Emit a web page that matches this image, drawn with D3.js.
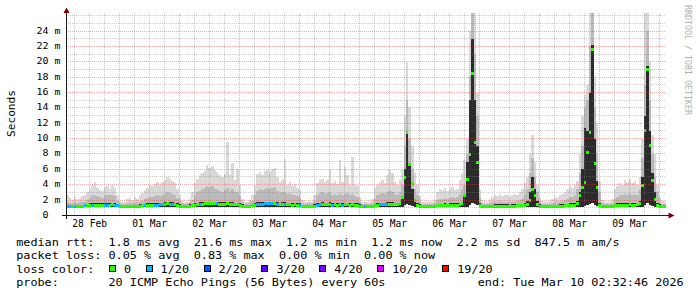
<!DOCTYPE html>
<html><head><meta charset="utf-8">
<script src="https://cdn.jsdelivr.net/npm/d3@7"></script>
<style>
html,body{margin:0;padding:0;background:#fff}
svg{display:block}
text{font-family:"DejaVu Sans Mono",monospace;white-space:pre}
</style>
</head><body>
<svg id="chart" width="697" height="297"></svg>
<script>
// ---------------- data (hourly bins) ----------------
const startTime = Date.UTC(2026, 1, 28, 2, 32, 46);
const endTime   = Date.UTC(2026, 2, 10, 2, 32, 46);
const stepMs = 3600 * 1000;

// median rtt (ms), one row per day (02:32 -> 02:32)
const medianRtt = [
 1.25,1.2,1.2,1.2,1.2,1.2,1.25,1.3,1.3,1.35,1.4,1.4,1.4,1.35,1.35,1.4,1.4,1.4,1.45,1.4,1.3,1.2,1.2,1.2,
 1.2,1.2,1.2,1.2,1.2,1.25,1.3,1.3,1.35,1.35,1.4,1.4,1.4,1.45,1.45,1.5,1.55,1.5,1.5,1.45,1.35,1.25,1.2,1.2,
 1.2,1.25,1.3,1.4,1.45,1.5,1.5,1.55,1.6,1.6,1.6,1.55,1.55,1.5,1.5,1.5,1.55,1.5,1.5,1.45,1.45,1.35,1.25,1.2,
 1.2,1.2,1.3,1.4,1.5,1.5,1.5,1.55,1.55,1.55,1.6,1.6,1.5,1.45,1.5,1.5,1.45,1.45,1.4,1.45,1.4,1.35,1.2,1.2,
 1.2,1.2,1.2,1.25,1.4,1.45,1.5,1.45,1.45,1.5,1.4,1.45,1.4,1.45,1.4,1.45,1.45,1.4,1.45,1.4,1.35,1.25,1.2,1.2,
 1.2,1.2,1.2,1.3,1.4,1.45,1.45,1.45,1.5,1.5,1.5,1.45,1.45,1.6,2.4,5.0,10.8,6.7,4.2,2.0,1.4,1.25,1.2,1.2,
 1.2,1.2,1.2,1.2,1.3,1.3,1.3,1.35,1.3,1.35,1.35,1.35,1.4,1.45,1.6,2.6,4.8,8.0,18.6,9.6,7.0,1.4,1.2,1.2,
 1.2,1.2,1.2,1.25,1.25,1.25,1.25,1.25,1.25,1.2,1.25,1.25,1.3,1.3,1.3,1.35,1.5,2.0,3.4,2.6,1.5,1.25,1.2,1.2,
 1.2,1.2,1.2,1.2,1.2,1.25,1.25,1.3,1.3,1.35,1.35,1.4,1.6,2.6,3.7,4.4,8.3,10.9,21.6,6.8,3.7,1.4,1.2,1.2,
 1.2,1.2,1.2,1.3,1.35,1.4,1.4,1.4,1.4,1.45,1.4,1.4,1.45,1.6,4.0,11.1,19.0,9.2,4.6,2.2,1.4,1.25,1.2,1.2
];

// lost pings out of 20 per bin
const lossCount = [
 1,1,0,1,0,0,0,1,0,0,1,0,0,0,0,1,1,0,0,1,1,0,0,0,
 0,0,0,0,0,0,0,1,0,0,0,1,1,1,1,0,0,1,1,0,0,0,0,0,
 0,0,0,0,0,1,0,0,0,0,0,0,1,0,0,0,0,0,0,0,0,0,0,0,
 0,0,0,0,1,1,1,1,1,1,1,0,1,0,0,1,0,0,0,0,0,1,0,0,
 0,0,0,0,1,1,0,0,0,0,1,0,0,0,1,0,0,0,0,0,0,0,0,1,
 0,0,0,0,0,1,1,1,1,0,0,0,0,0,0,0,0,0,0,0,0,0,0,0,
 0,0,0,0,0,0,0,0,0,0,0,0,0,0,0,0,0,0,0,0,0,0,0,0,
 0,0,0,0,0,0,0,0,0,0,0,0,0,0,0,0,0,0,0,0,0,0,0,0,
 0,0,0,0,0,0,0,0,0,0,0,0,0,0,0,0,0,0,0,0,0,0,0,0,
 0,0,0,0,0,0,0,0,0,0,0,0,0,0,0,0,0,0,0,0,0,0,0,0
];

// smoke: fastest ping (ms)
const smokeMin = [
 1.05,1.05,1.05,1.05,1.05,1.05,1.05,1.05,1.05,1.05,1.05,1.05,1.05,1.05,1.05,1.05,1.05,1.05,1.05,1.05,1.05,1.05,1.05,1.05,
 1.05,1.05,1.05,1.05,1.05,1.05,1.05,1.05,1.05,1.05,1.05,1.05,1.05,1.05,1.05,1.05,1.05,1.05,1.05,1.05,1.05,1.05,1.05,1.05,
 1.05,1.05,1.05,1.05,1.05,1.05,1.05,1.05,1.05,1.05,1.05,1.05,1.05,1.05,1.05,1.05,1.05,1.05,1.05,1.05,1.05,1.05,1.05,1.05,
 1.05,1.05,1.05,1.05,1.05,1.05,1.05,1.05,1.05,1.05,1.05,1.05,1.05,1.05,1.05,1.05,1.05,1.05,1.05,1.05,1.05,1.05,1.05,1.05,
 1.05,1.05,1.05,1.05,1.05,1.05,1.05,1.05,1.05,1.05,1.05,1.05,1.05,1.05,1.05,1.05,1.05,1.05,1.05,1.05,1.05,1.05,1.05,1.05,
 1.05,1.05,1.05,1.05,1.05,1.05,1.05,1.05,1.05,1.05,1.05,1.05,1.05,1.05,1.1,1.3,1.5,1.4,1.2,1.05,1.05,1.05,1.05,1.05,
 1.05,1.05,1.05,1.05,1.05,1.05,1.05,1.05,1.05,1.05,1.05,1.05,1.05,1.05,1.05,1.05,1.15,1.3,1.6,1.5,1.3,1.05,1.05,1.05,
 1.05,1.05,1.05,1.05,1.05,1.05,1.05,1.05,1.05,1.05,1.05,1.05,1.05,1.05,1.05,1.05,1.05,1.05,1.15,1.1,1.05,1.05,1.05,1.05,
 1.05,1.05,1.05,1.05,1.05,1.05,1.05,1.05,1.05,1.05,1.05,1.05,1.05,1.05,1.15,1.25,1.4,1.5,1.6,1.4,1.2,1.05,1.05,1.05,
 1.05,1.05,1.05,1.05,1.05,1.05,1.05,1.05,1.05,1.05,1.05,1.05,1.05,1.05,1.15,1.4,1.6,1.4,1.2,1.1,1.05,1.05,1.05,1.05
];

// smoke: dense core upper edge (ms)
const smokeCore = [
 1.4,1.35,1.35,1.35,1.35,1.35,1.4,1.45,1.5,1.55,1.6,1.6,1.6,1.55,1.55,1.6,1.6,1.6,1.65,1.6,1.45,1.35,1.35,1.35,
 1.4,1.4,1.4,1.4,1.4,1.45,1.5,1.5,1.55,1.55,1.6,1.6,1.6,1.65,1.65,1.7,1.75,1.7,1.7,1.65,1.55,1.45,1.4,1.4,
 1.4,1.45,1.5,1.6,1.65,1.7,1.7,1.75,1.8,1.8,1.8,1.75,1.75,1.7,1.7,1.7,1.75,1.7,1.7,1.65,1.65,1.55,1.45,1.4,
 1.4,1.4,1.5,1.6,1.7,1.7,1.7,1.75,1.75,1.75,1.8,1.8,1.7,1.65,1.7,1.7,1.65,1.65,1.6,1.65,1.6,1.55,1.4,1.4,
 1.4,1.4,1.4,1.45,1.6,1.65,1.7,1.65,1.65,1.7,1.6,1.65,1.6,1.65,1.6,1.65,1.65,1.6,1.65,1.6,1.55,1.45,1.4,1.4,
 1.4,1.4,1.4,1.5,1.6,1.65,1.65,1.65,1.7,1.7,1.7,1.65,1.65,1.8,2.5,6.0,11,6.5,3.5,2.0,1.6,1.45,1.4,1.4,
 1.4,1.4,1.4,1.4,1.5,1.5,1.5,1.55,1.5,1.55,1.55,1.55,1.6,1.65,1.8,2.6,7,15,23,15,9,1.6,1.4,1.4,
 1.4,1.4,1.4,1.45,1.45,1.45,1.45,1.45,1.45,1.4,1.45,1.45,1.5,1.5,1.5,1.55,1.9,3.0,5.0,3.5,1.9,1.45,1.4,1.4,
 1.4,1.4,1.4,1.4,1.4,1.45,1.45,1.5,1.5,1.55,1.55,1.6,1.85,3.0,6.0,11.4,11,16,22.2,10,4.5,1.6,1.4,1.4,
 1.4,1.4,1.4,1.5,1.55,1.6,1.6,1.6,1.6,1.65,1.6,1.6,1.65,1.85,5.0,13,19.5,11,5.5,3.0,1.6,1.45,1.4,1.4
];

// smoke: upper quantile edge (ms)
const smokeHigh = [
 1.7,1.6,1.6,1.7,1.6,1.7,1.8,1.8,2.0,2.3,2.6,2.7,2.5,2.4,2.3,2.6,2.7,2.6,2.7,2.5,1.9,1.6,1.5,1.5,
 1.6,1.7,1.6,1.7,1.7,1.8,1.9,2.1,2.3,2.4,2.4,2.5,2.6,2.5,2.7,2.8,3.0,2.9,2.8,2.6,2.3,1.9,1.6,1.5,
 1.6,1.7,2.0,2.6,3.0,3.2,3.4,3.6,3.8,3.7,3.8,3.5,3.4,3.2,3.1,3.3,3.6,3.2,3.4,3.0,3.1,2.5,1.7,1.5,
 1.6,1.7,1.9,2.6,3.2,3.4,3.3,3.5,3.6,3.5,3.6,3.7,3.2,2.9,3.0,3.1,2.8,2.9,2.6,2.7,2.5,2.3,1.6,1.5,
 1.6,1.6,1.6,1.9,2.6,2.9,3.0,2.8,2.9,3.0,2.7,2.8,2.6,2.9,2.7,2.8,2.9,2.6,2.8,2.5,2.4,1.8,1.5,1.5,
 1.5,1.5,1.6,2.2,2.6,2.8,2.9,2.8,3.0,3.2,3.0,2.8,2.7,3.0,4.0,9,15,10,6,3.5,2.6,1.8,1.5,1.5,
 1.5,1.5,1.5,1.6,2.0,2.2,2.2,2.3,2.2,2.3,2.4,2.3,2.4,2.8,3.5,4.0,8,18,26.4,21,13,2.4,1.6,1.5,
 1.5,1.6,1.7,1.8,1.8,1.9,1.8,1.8,1.8,1.7,1.8,1.9,1.9,2.0,2.2,2.6,3.5,5.5,7.5,5.0,3.0,1.7,1.5,1.5,
 1.5,1.5,1.6,1.7,1.7,1.8,1.9,2.0,2.2,2.4,2.4,2.6,3.5,5.5,9,14,15,22,26.4,14,8,3.0,1.6,1.5,
 1.5,1.5,1.6,2.2,2.4,2.6,2.6,2.8,2.7,2.9,2.7,2.8,2.7,3.5,7.5,17,24,15,8,5,3,1.7,1.5,1.5
];

// smoke: slowest ping (ms)
const smokeMax = [
 2.6,2.3,2.0,2.4,2.2,2.3,2.5,2.6,3.0,3.5,3.9,4.3,3.6,3.3,3.2,3.7,3.8,3.5,3.9,3.6,2.6,1.9,1.7,1.8,
 2.1,2.3,2.0,2.4,2.2,2.6,2.9,3.3,3.6,3.9,3.8,4.1,4.3,4.0,4.4,4.6,5.0,4.8,4.5,4.2,3.5,2.6,1.9,1.7,
 1.8,2.2,3.0,4.2,4.8,5.2,5.5,5.8,6.6,6.2,6.4,5.9,5.6,5.3,5.0,5.4,9.6,5.2,6.8,4.6,6.0,4.0,2.2,1.8,
 1.8,2.0,2.6,4.0,5.4,5.6,5.3,5.8,5.9,5.7,6.0,6.2,5.0,4.3,4.6,7.3,4.0,4.4,3.8,4.1,3.6,3.3,2.0,1.7,
 1.8,1.9,1.8,2.6,4.2,4.6,4.8,4.4,4.6,5.9,4.2,4.5,4.1,7.2,4.4,6.3,5.2,4.0,7.6,4.0,3.8,2.4,1.8,1.7,
 1.7,1.8,2.2,3.6,4.0,4.4,4.6,4.2,5.2,5.9,5.5,4.4,4.0,4.6,5.9,13,20,14,9,5.5,4.0,2.5,1.8,1.7,
 1.7,1.8,1.7,2.0,3.0,3.4,3.3,3.6,3.2,3.5,3.7,3.3,3.5,4.6,5.5,7.2,10,24,26.4,26.4,16,3.5,2.0,1.8,
 1.8,2.2,2.4,2.6,2.5,2.8,2.5,2.7,2.6,2.4,2.6,2.8,2.7,3.0,3.5,4.2,5.0,8.0,10.5,7.0,4.0,2.4,1.9,1.8,
 1.8,1.9,2.2,2.4,2.3,2.6,2.8,3.0,3.4,3.8,3.6,4.0,4.5,8,13,15.7,17,26.4,26.4,18,12,4.5,2.0,1.8,
 1.7,1.8,2.2,3.4,3.8,4.2,4.0,4.6,4.4,4.8,4.2,4.5,4.0,5.0,10,26.4,26.4,20,10.5,8,4.0,2.4,1.9,1.8
];

const yTickValues = [0,2,4,6,8,10,12,14,16,18,20,22,24];
const yTickLabels = ["0","2 m","4 m","6 m","8 m","10 m","12 m","14 m","16 m","18 m","20 m","22 m","24 m"];
const yAxisTitle = "Seconds";
const yMaxMs = 26.3;

const lossThresholds = [0, 1, 2, 3, 4, 10, 19];
const lossLabels = ["0", "1/20", "2/20", "3/20", "4/20", "10/20", "19/20"];
const lossColors = ["#26ff00", "#00b8ff", "#0059ff", "#5e00ff", "#7e00ff", "#dd00ff", "#ff0000"];

const statLines = [
  "median rtt:  1.8 ms avg  21.6 ms max  1.2 ms min  1.2 ms now  2.2 ms sd  847.5 m am/s",
  "packet loss: 0.05 % avg  0.83 % max  0.00 % min  0.00 % now"
];
const lossTitle = "loss color:";
const probeLine = "probe:       20 ICMP Echo Pings (56 Bytes) every 60s";
const watermark = "RRDTOOL / TOBI OETIKER";

// ---------------- drawing ----------------
const svg = d3.select("#chart");
const P = {left: 66, right: 666, top: 13.4, bottom: 215.4};
const x = d3.scaleUtc().domain([startTime, endTime]).range([P.left, P.right]);
const y = d3.scaleLinear().domain([0, yMaxMs]).range([P.bottom, P.top]);
const PITCH = 7.1;

svg.append("rect").attr("width", 697).attr("height", 297).attr("fill", "#fff");

svg.append("defs").append("clipPath").attr("id", "clip")
  .append("rect").attr("x", P.left).attr("y", 13).attr("width", P.right - P.left).attr("height", P.bottom - 13);

const bins = medianRtt.map((m, i) => {
  const x0 = Math.round(x(startTime + i * stepMs));
  const x1 = Math.round(x(startTime + (i + 1) * stepMs));
  return {i, x0, w: x1 - x0, med: m, loss: lossCount[i], lo: smokeMin[i],
          core: smokeCore[i], high: smokeHigh[i], max: smokeMax[i]};
});

const plotG = svg.append("g").attr("clip-path", "url(#clip)").attr("shape-rendering", "crispEdges");

const layers = [
  {key: "max", fill: "#d9d9d9"},
  {key: "high", fill: "#bababa"},
  {key: "core", fill: "#2b2b2b"}
];
layers.forEach(L => {
  plotG.append("g").selectAll("rect").data(bins).join("rect")
    .attr("x", d => d.x0).attr("width", d => d.w)
    .attr("y", d => Math.round(y(Math.min(d[L.key], yMaxMs + 1))))
    .attr("height", d => Math.max(0, Math.round(y(d.lo)) - Math.round(y(Math.min(d[L.key], yMaxMs + 1)))))
    .attr("fill", L.fill);
});

function lossColor(n) {
  let idx = 0;
  lossThresholds.forEach((t, k) => { if (n >= t) idx = k; });
  return lossColors[idx];
}
plotG.append("g").selectAll("rect").data(bins).join("rect")
  .attr("x", d => d.x0).attr("width", d => d.w)
  .attr("y", d => Math.round(y(d.med)) - 1).attr("height", 3)
  .attr("fill", d => lossColor(d.loss));

// grid (drawn over the data, like rrdtool)
const gridG = svg.append("g").attr("shape-rendering", "crispEdges").attr("stroke-dasharray", "1,1");
const minorY = d3.range(1, Math.floor(yMaxMs) + 1).filter(v => !yTickValues.includes(v));
gridG.selectAll("line.ym").data(minorY).join("line")
  .attr("x1", P.left).attr("x2", P.right)
  .attr("y1", d => Math.floor(y(d)) + 0.5).attr("y2", d => Math.floor(y(d)) + 0.5)
  .attr("stroke", "rgba(128,128,128,0.4)");
const sixHours = d3.utcHour.every(6).range(startTime, endTime).filter(t => t.getUTCHours() !== 0);
gridG.selectAll("line.xm").data(sixHours).join("line")
  .attr("x1", d => Math.floor(x(d)) + 0.5).attr("x2", d => Math.floor(x(d)) + 0.5)
  .attr("y1", 13).attr("y2", P.bottom)
  .attr("stroke", "rgba(128,128,128,0.4)");
gridG.selectAll("line.yM").data(yTickValues.filter(v => v > 0)).join("line")
  .attr("x1", P.left).attr("x2", P.right)
  .attr("y1", d => Math.floor(y(d)) + 0.5).attr("y2", d => Math.floor(y(d)) + 0.5)
  .attr("stroke", "rgba(222,70,70,0.45)");
const days = d3.utcDay.range(startTime, endTime);
gridG.selectAll("line.xM").data(days).join("line")
  .attr("x1", d => Math.floor(x(d)) + 0.5).attr("x2", d => Math.floor(x(d)) + 0.5)
  .attr("y1", 13).attr("y2", P.bottom)
  .attr("stroke", "rgba(222,70,70,0.45)");

// axes
const axG = svg.append("g").attr("shape-rendering", "crispEdges");
axG.append("line").attr("x1", 62).attr("x2", 669).attr("y1", 215.5).attr("y2", 215.5).attr("stroke", "#1a1a1a");
axG.append("line").attr("x1", 66.5).attr("x2", 66.5).attr("y1", 219).attr("y2", 12).attr("stroke", "#1a1a1a");
svg.append("path").attr("d", "M668.5,212.5L674.5,215.5L668.5,218.5Z").attr("fill", "#7f0000");
svg.append("path").attr("d", "M63.5,13L66.5,7.5L69.5,13Z").attr("fill", "#7f0000");

// y tick labels
svg.append("g").selectAll("text").data(yTickValues).join("text")
  .attr("x", (d, i) => yTickLabels[i].includes(" ") ? 60.5 : 48.5)
  .attr("y", d => Math.floor(y(d)) + 3.2)
  .attr("text-anchor", "end")
  .attr("font-size", "8.6px")
  .attr("textLength", (d, i) => yTickLabels[i].length * 6)
  .attr("lengthAdjust", "spacingAndGlyphs")
  .attr("fill", "#000")
  .text((d, i) => yTickLabels[i]);

// x labels at noon of each day
const fmtDay = d3.utcFormat("%d %b");
const noons = d3.utcDay.range(d3.utcDay.floor(new Date(startTime)), endTime)
  .map(d => d3.utcHour.offset(d, 12)).filter(d => +d > startTime && +d < endTime);
svg.append("g").selectAll("text").data(noons).join("text")
  .attr("x", d => x(d)).attr("y", 227)
  .attr("text-anchor", "middle").attr("font-size", "9.6px")
  .attr("textLength", d => fmtDay(d).length * 5.8).attr("lengthAdjust", "spacingAndGlyphs")
  .attr("fill", "#000")
  .text(d => fmtDay(d));

// y axis title
svg.append("text").attr("transform", "translate(14.5,113.5) rotate(-90)")
  .attr("text-anchor", "middle").attr("font-size", "11px")
  .attr("textLength", yAxisTitle.length * 6.7).attr("lengthAdjust", "spacingAndGlyphs")
  .attr("fill", "#000").text(yAxisTitle);

// watermark
svg.append("text").attr("transform", "translate(685,5) rotate(90)")
  .attr("font-size", "8.3px").attr("fill", "#b0b0b0")
  .attr("textLength", 110).attr("lengthAdjust", "spacingAndGlyphs")
  .text(watermark);

// legend
const LX = 16.2;
const rowY = [245.5, 259, 272.7, 286.3];
function monoText(str, xPos, yPos) {
  return svg.append("text").attr("x", xPos).attr("y", yPos)
    .attr("xml:space", "preserve")
    .attr("font-size", "11px").attr("fill", "#000")
    .attr("textLength", str.length * PITCH).attr("lengthAdjust", "spacingAndGlyphs")
    .text(str);
}
statLines.forEach((s, i) => monoText(s, LX, rowY[i]));
monoText(lossTitle, LX, rowY[2]);
let cursor = 109;
lossLabels.forEach((lab, k) => {
  svg.append("rect").attr("x", cursor + 0.5).attr("y", 265.5).attr("width", 6).attr("height", 6)
    .attr("fill", lossColors[k]).attr("stroke", "#000").attr("stroke-width", 1)
    .attr("shape-rendering", "crispEdges");
  monoText(lab, cursor + 15, rowY[2]);
  cursor += 15 + lab.length * PITCH + 14.5;
});
monoText(probeLine, LX, rowY[3]);
const endLine = "end: " + d3.utcFormat("%a %b %d %H:%M:%S %Y")(new Date(endTime));
monoText(endLine, LX + 65 * PITCH, rowY[3]);
</script>
</body></html>
